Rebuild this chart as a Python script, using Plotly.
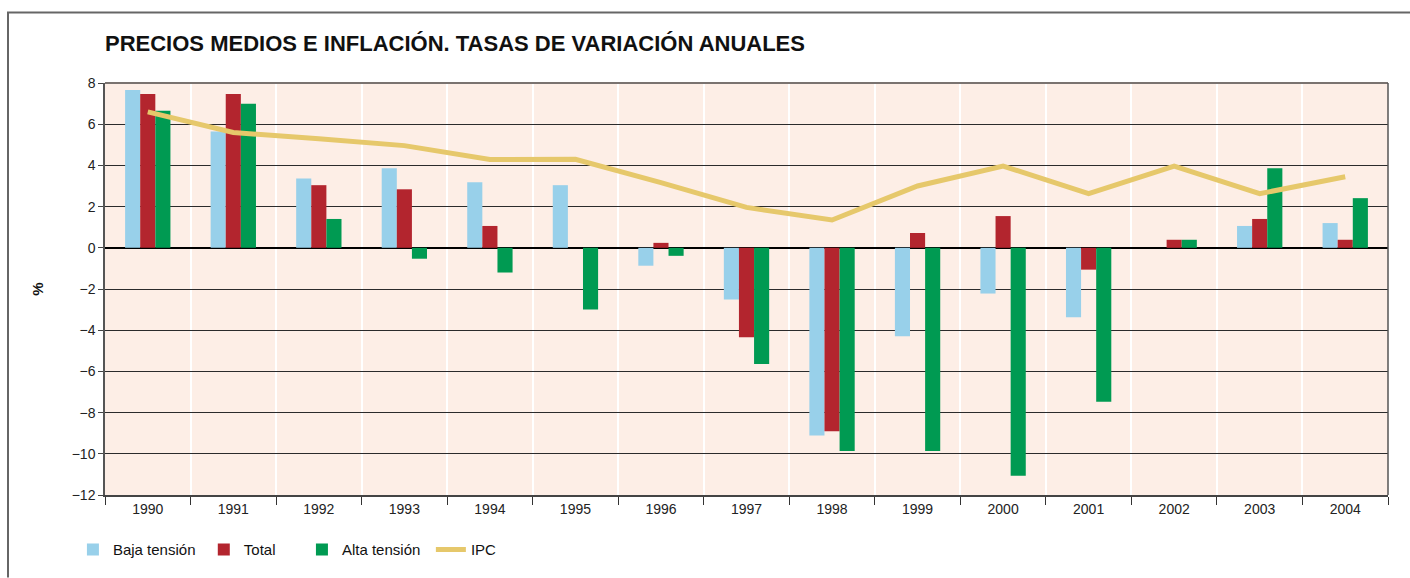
import plotly.graph_objects as go

# Annual variation rates (%)
years = ["1990", "1991", "1992", "1993", "1994", "1995", "1996", "1997",
         "1998", "1999", "2000", "2001", "2002", "2003", "2004"]
baja_tension = [7.66, 5.65, 3.37, 3.86, 3.18, 3.04, -0.87, -2.51,
                -9.11, -4.29, -2.22, -3.37, 0.0, 1.06, 1.20]
total = [7.47, 7.47, 3.04, 2.84, 1.06, 0.0, 0.24, -4.34,
         -8.90, 0.72, 1.54, -1.06, 0.39, 1.40, 0.39]
alta_tension = [6.65, 6.99, 1.40, -0.53, -1.20, -2.99, -0.39, -5.64,
                -9.86, -9.86, -11.07, -7.47, 0.39, 3.86, 2.41]
ipc = [6.6, 5.6, 5.29, 4.96, 4.29, 4.3, 3.16, 1.96,
       1.35, 3.0, 3.97, 2.63, 3.97, 2.63, 3.45]
y_ticks = [8, 6, 4, 2, 0, -2, -4, -6, -8, -10, -12]

FONT = "Liberation Sans Narrow, Arial Narrow, Liberation Sans, Arial, sans-serif"

fig = go.Figure()
fig.add_trace(go.Bar(x=years, y=baja_tension, name="Baja tensión", showlegend=True,
                     marker=dict(color="#98D0EA", line_width=0), legend="legend"))
fig.add_trace(go.Bar(x=years, y=total, name="Total", showlegend=True,
                     marker=dict(color="#B3252E", line_width=0), legend="legend2"))
fig.add_trace(go.Bar(x=years, y=alta_tension, name="Alta tensión", showlegend=True,
                     marker=dict(color="#009A52", line_width=0), legend="legend3"))
fig.add_trace(go.Scatter(x=years, y=ipc, name="IPC", mode="lines", showlegend=True,
                         line=dict(color="#E6C86B", width=5), legend="legend4"))

legend_common = dict(orientation="h", yanchor="middle", xanchor="left", y=-0.133,
                     bgcolor="rgba(0,0,0,0)", font=dict(family=FONT, size=15, color="#111"),
                     itemwidth=30)

# outer panel frame (left and top edges), in paper units
frame_left = (8 - 105) / 1283
frame_right = (1410 - 105) / 1283
frame_top = (498 - 12) / 415
frame_bottom = -0.2
frame_path = (f"M {frame_left},{frame_bottom} L {frame_left},{frame_top} "
              f"L {frame_right},{frame_top}")

fig.update_layout(
    width=1410, height=578,
    margin=dict(l=105, r=22, t=83, b=80),
    paper_bgcolor="white",
    plot_bgcolor="#FDEEE6",
    showlegend=True,
    barmode="group", bargap=0.47, bargroupgap=0,
    title=dict(text="<b>PRECIOS MEDIOS E INFLACIÓN. TASAS DE VARIACIÓN ANUALES</b>",
               x=105 / 1410, xanchor="left", y=1 - 43 / 578, yanchor="middle",
               font=dict(family=FONT, size=22, color="#111")),
    font=dict(family=FONT, size=14, color="#222"),
    legend=dict(x=-0.025, **legend_common),
    legend2=dict(x=0.077, **legend_common),
    legend3=dict(x=0.1535, **legend_common),
    legend4=dict(x=0.254, **legend_common),
    xaxis=dict(type="category", tickson="boundaries", showgrid=True,
               gridcolor="white", gridwidth=1.5, ticks="outside", ticklen=8,
               tickcolor="#333", showline=True, linecolor="#444", linewidth=1.5,
               mirror=False, tickfont=dict(family=FONT, size=14, color="#222")),
    yaxis=dict(range=[-12, 8], tickvals=y_ticks, showgrid=True,
               gridcolor="#2b2b2b", gridwidth=1.2, zeroline=True,
               zerolinecolor="#000", zerolinewidth=2, ticks="outside",
               ticklen=5, tickcolor="#444", showline=True, linecolor="#555",
               linewidth=1.5, tickfont=dict(family=FONT, size=14, color="#222"),
               title=dict(text="<b>%</b>", font=dict(family=FONT, size=15, color="#111"),
                          standoff=24)),
    shapes=[
        dict(type="path", xref="paper", yref="paper", path=frame_path,
             line=dict(color="#666", width=2), fillcolor="rgba(0,0,0,0)"),
        # top and right edges of the plot area
        dict(type="line", xref="paper", yref="paper", x0=0, x1=1, y0=1, y1=1,
             line=dict(color="#7a7370", width=2)),
        dict(type="line", xref="paper", yref="paper", x0=1, x1=1, y0=0, y1=1,
             line=dict(color="#555", width=1.5)),
    ],
)

fig.write_html("out.html", config={"displayModeBar": False})
